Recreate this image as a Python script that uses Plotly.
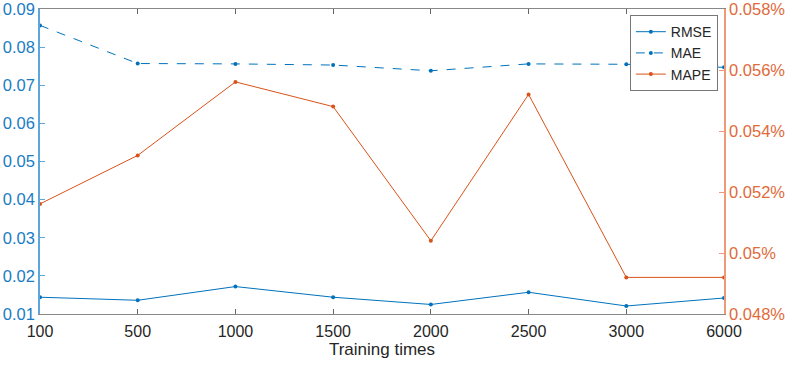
import plotly.graph_objects as go

training_times = ["100", "500", "1000", "1500", "2000", "2500", "3000", "6000"]
rmse = [0.0144, 0.0136, 0.0172, 0.0144, 0.0125, 0.0157, 0.0121, 0.0142]
mae = [0.0857, 0.0757, 0.0756, 0.0753, 0.0738, 0.0756, 0.0755, 0.0747]
mape = [0.05161, 0.0532, 0.05561, 0.0548, 0.0504, 0.0552, 0.0492, 0.0492]  # in percent

left_ticks = [0.01, 0.02, 0.03, 0.04, 0.05, 0.06, 0.07, 0.08, 0.09]
left_tick_labels = ["0.01", "0.02", "0.03", "0.04", "0.05", "0.06", "0.07", "0.08", "0.09"]
right_ticks = [0.048, 0.050, 0.052, 0.054, 0.056, 0.058]
right_tick_labels = ["0.048%", "0.05%", "0.052%", "0.054%", "0.056%", "0.058%"]

BLUE = "#0072BD"
ORANGE = "#D95319"
FONT = "Liberation Sans, Arial, sans-serif"

fig = go.Figure()
fig.add_trace(go.Scatter(x=training_times, y=rmse, name="RMSE", mode="lines+markers",
                         line=dict(color=BLUE, width=1), marker=dict(size=4, color=BLUE),
                         cliponaxis=False))
fig.add_trace(go.Scatter(x=training_times, y=mae, name="MAE", mode="lines+markers",
                         line=dict(color=BLUE, width=1, dash="dash"), marker=dict(size=4, color=BLUE),
                         cliponaxis=False))
fig.add_trace(go.Scatter(x=training_times, y=mape, name="MAPE", mode="lines+markers", yaxis="y2",
                         line=dict(color=ORANGE, width=1), marker=dict(size=4, color=ORANGE),
                         cliponaxis=False))

fig.update_layout(
    width=789, height=368,
    margin=dict(l=40, r=65, t=9, b=54),
    paper_bgcolor="white", plot_bgcolor="white",
    font=dict(family=FONT, size=16, color="#262626"),
    showlegend=True,
    legend=dict(x=0.991, y=0.98, xanchor="right", yanchor="top",
                bgcolor="white", bordercolor="#777777", borderwidth=1,
                font=dict(size=14, color="#262626"), tracegroupgap=0,
                itemwidth=30),
    xaxis=dict(type="category", range=[0, 7], showgrid=False, zeroline=False, automargin=False,
               showline=True, linecolor="#888888", linewidth=1, mirror="ticks",
               ticks="inside", ticklen=5, tickcolor="#666666",
               tickfont=dict(size=16, color="#262626"), ticklabelstandoff=3,
               title=dict(text="Training times", font=dict(size=17, color="#262626"), standoff=2)),
    yaxis=dict(range=[0.01, 0.09], tickvals=left_ticks, ticktext=left_tick_labels,
               showgrid=False, zeroline=False, automargin=False, ticklabeloverflow="allow",
               showline=True, linecolor="#5DA5DA", linewidth=1.5,
               ticks="inside", ticklen=5, tickcolor="#5DA5DA",
               tickfont=dict(size=16.5, color="#1A7CC4")),
    yaxis2=dict(range=[0.048, 0.058], tickvals=right_ticks, ticktext=right_tick_labels,
                overlaying="y", side="right", automargin=False, ticklabeloverflow="allow",
                showgrid=False, zeroline=False, showline=True, linecolor="#EE9A78", linewidth=1.5,
                ticks="inside", ticklen=5, tickcolor="#EE9A78",
                tickfont=dict(size=16.5, color="#E06A3A")),
)

fig.write_html("out.html", config={"displayModeBar": False},
               post_script="document.body.style.margin='0';document.body.style.overflow='hidden';")
